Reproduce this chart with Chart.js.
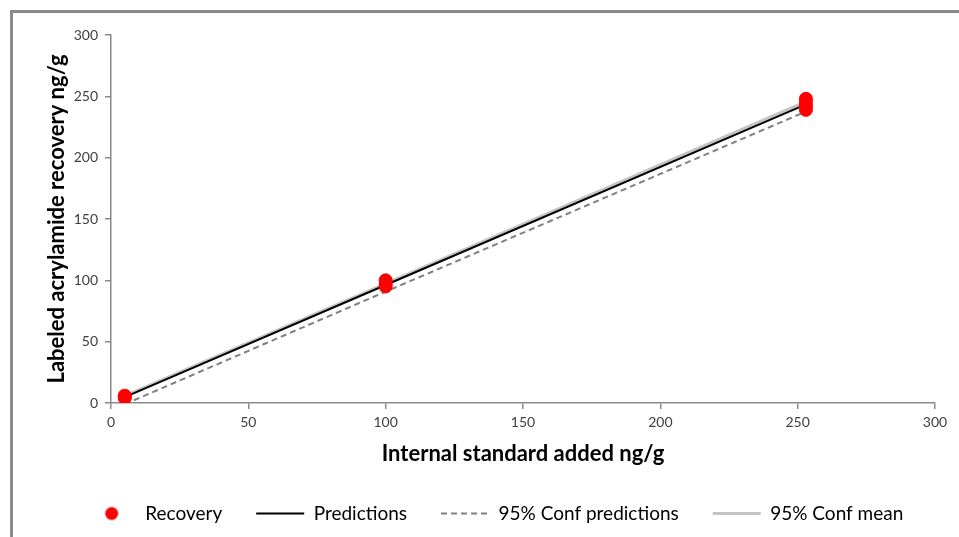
<!DOCTYPE html>
<html>
<head>
<meta charset="utf-8">
<script src="https://cdn.jsdelivr.net/npm/chart.js@4"></script>
<style>
  html, body { margin: 0; padding: 0; background: #fff; }
  #wrap { position: relative; width: 959px; height: 537px; overflow: hidden; }
  #frame { position: absolute; left: 10px; top: 10px; width: 960px; height: 540px;
           border-top: 3px solid #8a8a8a; border-left: 3px solid #8a8a8a; box-sizing: border-box; }
  #myChart { position: absolute; left: 0; top: 0; }
</style>
</head>
<body>
<div id="wrap">
  <div id="frame"></div>
  <canvas id="myChart" width="959" height="537"></canvas>
</div>
<script>
// data
const recoveryX = [5, 5, 5, 100, 100, 100, 253, 253, 253, 253];
const recoveryY = [4, 5, 6, 95, 97, 100, 239, 242, 245, 248];
const lineX = [5, 100, 253];
const predictions = [4.8, 96.2, 243.4];
const confPredictions = [-1, 90.8, 237.6];
const confMean = [5.8, 97.4, 245.6];
const xTicks = [0, 50, 100, 150, 200, 250, 300];
const yTicks = [0, 50, 100, 150, 200, 250, 300];
const seriesNames = ['Recovery', 'Predictions', '95% Conf predictions', '95% Conf mean'];

const toPoints = (xs, ys) => xs.map((x, i) => ({ x: x, y: ys[i] }));

// red dot used as the legend marker for Recovery
const dot = document.createElement('canvas');
dot.width = 16; dot.height = 16;
const dctx = dot.getContext('2d');
dctx.fillStyle = '#ff0000';
dctx.beginPath();
dctx.arc(8, 8, 6.5, 0, Math.PI * 2);
dctx.fill();

const axisColor = '#8a8a8a';
const tickFont = { family: 'Lato', size: 14 };
const titleFont = { family: 'Lato', size: 22, weight: 'bold' };

// the legend sits a little right of centre in the original
const legendShift = {
    id: 'legendShift',
    afterLayout(chart) {
        chart.legend.left += 28;
        chart.legend.right += 28;
    }
};

const ctx = document.getElementById('myChart');
new Chart(ctx, {
    type: 'scatter',
    data: {
        datasets: [{
            label: seriesNames[0],
            data: toPoints(recoveryX, recoveryY),
            backgroundColor: '#ff0000',
            borderColor: '#ff0000',
            pointRadius: 6.5,
            pointHoverRadius: 6.5,
            order: 0
        }, {
            label: seriesNames[1],
            data: toPoints(lineX, predictions),
            showLine: true,
            borderColor: '#000000',
            borderWidth: 2,
            pointRadius: 0,
            order: 1
        }, {
            label: seriesNames[2],
            data: toPoints(lineX, confPredictions),
            showLine: true,
            borderColor: '#808080',
            borderWidth: 2,
            borderDash: [6, 4],
            pointRadius: 0,
            order: 2
        }, {
            label: seriesNames[3],
            data: toPoints(lineX, confMean),
            showLine: true,
            borderColor: '#c4c4c4',
            borderWidth: 3,
            pointRadius: 0,
            order: 3
        }]
    },
    options: {
        responsive: false,
        animation: false,
        layout: { padding: { left: 0, right: 24, top: 35, bottom: 4 } },
        scales: {
            x: {
                type: 'linear',
                min: 0,
                max: 300,
                afterBuildTicks: (scale) => { scale.ticks = xTicks.map(v => ({ value: v })); },
                afterFit: (scale) => { scale.height = 67; },
                border: { color: axisColor, width: 1.5 },
                grid: { display: true, drawOnChartArea: false, tickLength: 6, color: axisColor, lineWidth: 1.5 },
                ticks: { color: '#404040', font: tickFont, padding: 5, maxRotation: 0 },
                title: { display: true, text: 'Internal standard added ng/g', color: '#000', font: titleFont, padding: { top: 4, bottom: 3 } }
            },
            y: {
                type: 'linear',
                min: 0,
                max: 300,
                afterBuildTicks: (scale) => { scale.ticks = yTicks.map(v => ({ value: v })); },
                afterFit: (scale) => { scale.width = 111; },
                border: { color: axisColor, width: 1.5 },
                grid: { display: true, drawOnChartArea: false, tickLength: 6, color: axisColor, lineWidth: 1.5 },
                ticks: { color: '#404040', font: tickFont, padding: 7 },
                title: { display: true, text: 'Labeled acrylamide recovery ng/g', color: '#000', font: titleFont, padding: { top: 44, bottom: 0 } }
            }
        },
        plugins: {
            tooltip: { enabled: false },
            legend: {
                position: 'bottom',
                labels: {
                    usePointStyle: true,
                    pointStyleWidth: 48,
                    boxHeight: 10,
                    padding: 34,
                    color: '#262626',
                    font: { family: 'Lato', size: 19 },
                    generateLabels: (chart) => chart.data.datasets.map((ds, i) => ({
                        text: ds.label,
                        datasetIndex: i,
                        fillStyle: ds.borderColor,
                        strokeStyle: ds.borderColor,
                        lineWidth: i === 0 ? 0 : ds.borderWidth,
                        lineDash: ds.borderDash || [],
                        pointStyle: i === 0 ? dot : 'line',
                        hidden: false
                    }))
                }
            }
        }
    },
    plugins: [legendShift]
});
</script>
</body>
</html>
